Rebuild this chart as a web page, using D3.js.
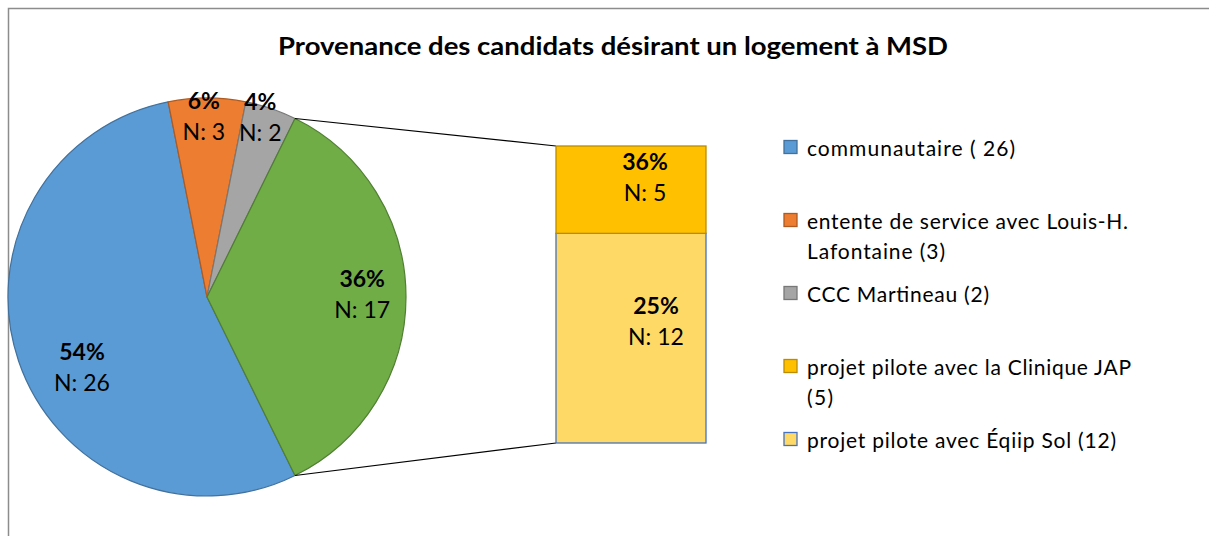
<!DOCTYPE html>
<html>
<head>
<meta charset="utf-8">
<script src="https://cdn.jsdelivr.net/npm/d3@7"></script>
<style>
  html, body { margin: 0; padding: 0; background: #fff; }
  svg { display: block; font-family: Lato, "Open Sans", "Liberation Sans", sans-serif; }
</style>
</head>
<body>
<svg id="chart" width="1209" height="536"></svg>
<script>
// ---- data ----
const title = "Provenance des candidats désirant un logement à MSD";
const pieCategories = ["communautaire", "entente de service avec Louis-H. Lafontaine", "CCC Martineau", "Autre"];
const pieValues = [26, 3, 2, 17];
const piePercentLabels = ["54%", "6%", "4%", "36%"];
const barCategories = ["projet pilote avec Éqiip Sol", "projet pilote avec la Clinique JAP"];
const barValues = [12, 5];
const barPercentLabels = ["25%", "36%"];
const legendLabels = [
  ["communautaire ( 26)"],
  ["entente de service avec Louis-H.", "Lafontaine (3)"],
  ["CCC Martineau (2)"],
  ["projet pilote avec la Clinique JAP", "(5)"],
  ["projet pilote avec Éqiip Sol (12)"]
];

// ---- styles ----
const pieFill = ["#5B9BD5", "#ED7D31", "#A5A5A5", "#70AD47"];
const pieStroke = ["#41719C", "#AE5A21", "#787878", "#507E32"];
const barFill = ["#FFD966", "#FFC000"];
const barStroke = ["#4472C4", "#BC8C00"];
const legendFill = [pieFill[0], pieFill[1], pieFill[2], barFill[1], barFill[0]];
const legendStroke = [pieStroke[0], pieStroke[1], pieStroke[2], barStroke[1], barStroke[0]];
const labelSize = 23;

const svg = d3.select("#chart");

// frame
svg.append("rect").attr("x", 8.5).attr("y", 8.5).attr("width", 1300).attr("height", 600)
  .attr("fill", "none").attr("stroke", "#8c8c8c").attr("stroke-width", 1.5);

// title
svg.append("text").attr("x", 613).attr("y", 55).attr("text-anchor", "middle")
  .attr("font-size", 24).attr("font-weight", "bold").attr("fill", "#000")
  .attr("textLength", 670).attr("lengthAdjust", "spacingAndGlyphs")
  .text(title);

// ---- pie ----
const cx = 207, cy = 297, R = 199;
const otherSpan = 2 * Math.PI * pieValues[3] / d3.sum(pieValues);
const pie = d3.pie().sort(null).value(d => d)
  .startAngle(Math.PI / 2 + otherSpan / 2)
  .endAngle(Math.PI / 2 + otherSpan / 2 + 2 * Math.PI);
const arcs = pie(pieValues);
const arc = d3.arc().innerRadius(0).outerRadius(R);
const gPie = svg.append("g").attr("transform", `translate(${cx},${cy})`);
gPie.selectAll("path").data(arcs).join("path")
  .attr("d", arc)
  .attr("fill", (d, i) => pieFill[i])
  .attr("stroke", (d, i) => pieStroke[i])
  .attr("stroke-width", 1.2)
  .attr("stroke-linejoin", "round");

// label positions: polar radius factor + angle nudge (deg)
const labelRadius = [0.72, 0.905, 0.94, 0.78];
const labelAngleNudge = [-10.5, -1, -2.2, -1];
function polar(angle, r) { return [r * Math.sin(angle), -r * Math.cos(angle)]; }
arcs.forEach((d, i) => {
  const mid = (d.startAngle + d.endAngle) / 2 + labelAngleNudge[i] * Math.PI / 180;
  const [x, y] = polar(mid, labelRadius[i] * R);
  const g = gPie.append("g").attr("transform", `translate(${x},${y})`);
  g.append("text").attr("y", -15.5).attr("dy", "0.35em").attr("text-anchor", "middle")
    .attr("font-size", labelSize).attr("font-weight", "bold").attr("fill", "#000")
    .text(piePercentLabels[i]);
  g.append("text").attr("y", 15.5).attr("dy", "0.35em").attr("text-anchor", "middle")
    .attr("font-size", labelSize).attr("fill", "#000")
    .text("N: " + pieValues[i]);
});

// ---- bar (stack) ----
const barX = 556, barW = 150;
const y = d3.scaleLinear().domain([0, d3.sum(barValues)]).range([443, 146]);
const stacked = [];
let acc = 0;
barValues.forEach((v, i) => { stacked.push({ v, i, y0: acc, y1: acc + v }); acc += v; });

// connector lines
const otherArc = arcs[3];
const pTop = polar(otherArc.startAngle, R);
const pBot = polar(otherArc.endAngle, R);
svg.append("line").attr("x1", cx + pTop[0]).attr("y1", cy + pTop[1])
  .attr("x2", barX).attr("y2", y(d3.sum(barValues))).attr("stroke", "#000").attr("stroke-width", 1.2);
svg.append("line").attr("x1", cx + pBot[0]).attr("y1", cy + pBot[1])
  .attr("x2", barX).attr("y2", y(0)).attr("stroke", "#000").attr("stroke-width", 1.2);

const gBar = svg.append("g");
gBar.selectAll("rect").data(stacked).join("rect")
  .attr("x", barX).attr("width", barW)
  .attr("y", d => y(d.y1)).attr("height", d => y(d.y0) - y(d.y1))
  .attr("fill", d => barFill[d.i]).attr("stroke", d => barStroke[d.i]).attr("stroke-width", 1.3);

const barLabelDx = [25, 14];
const barLabelDy = [-17, -12];
stacked.forEach(d => {
  const lx = barX + barW / 2 + barLabelDx[d.i];
  const ly = (y(d.y0) + y(d.y1)) / 2 + barLabelDy[d.i];
  gBar.append("text").attr("x", lx).attr("y", ly - 15.5).attr("dy", "0.35em")
    .attr("text-anchor", "middle").attr("font-size", labelSize).attr("font-weight", "bold")
    .text(barPercentLabels[d.i]);
  gBar.append("text").attr("x", lx).attr("y", ly + 15.5).attr("dy", "0.35em")
    .attr("text-anchor", "middle").attr("font-size", labelSize)
    .text("N: " + d.v);
});

// ---- legend ----
const ly = d3.scalePoint().domain(d3.range(legendLabels.length)).range([147, 439]);
const legendWidths = [[208], [321, 138], [182], [324, 26], [309]];
const gLeg = svg.append("g");
legendLabels.forEach((lines, i) => {
  const yy = ly(i);
  gLeg.append("rect").attr("x", 784).attr("y", yy - 6.5).attr("width", 13).attr("height", 13)
    .attr("fill", legendFill[i]).attr("stroke", legendStroke[i]).attr("stroke-width", 1.3);
  lines.forEach((t, j) => {
    gLeg.append("text").attr("x", 807).attr("y", yy + 2 + j * 30).attr("dy", "0.35em")
      .attr("font-size", 21).attr("fill", "#000")
      .attr("textLength", legendWidths[i][j]).attr("lengthAdjust", "spacing")
      .text(t);
  });
});
</script>
</body>
</html>
